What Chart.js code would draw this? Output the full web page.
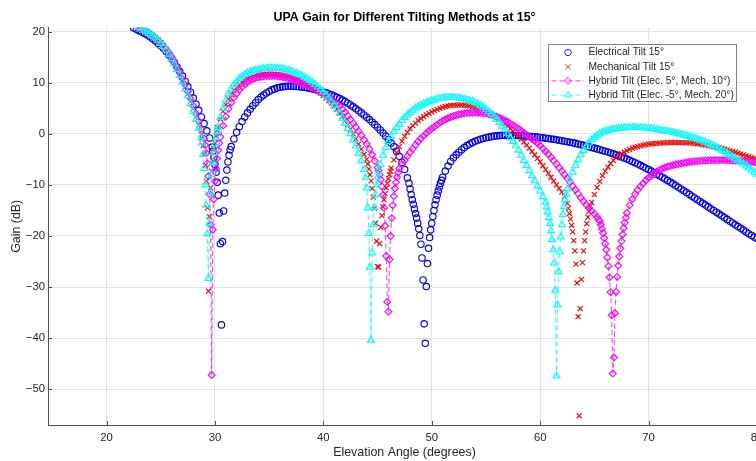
<!DOCTYPE html>
<html>
<head>
<meta charset="utf-8">
<script src="https://cdn.jsdelivr.net/npm/chart.js@4.4.0/dist/chart.umd.min.js"></script>
<style>
  html, body { margin: 0; padding: 0; background: #fff; overflow: hidden; }
  canvas { display: block; }
</style>
</head>
<body>
<canvas id="gainChart" width="780" height="461"></canvas>
<script>
// elevation grid: 22.0 .. 81.0 deg, one row per degree (x.00 x.25 x.50 x.75)
var gridStart = 22.0;
var gridStep = 0.25;

var elecGain = [
/*22*/ null, null, 20.7, 20.45,
/*23*/ 20.2, 19.95, 19.65, 19.35,
/*24*/ 19.0, 18.6, 18.2, 17.75,
/*25*/ 17.25, 16.7, 16.1, 15.45,
/*26*/ 14.75, 13.95, 13.1, 12.2,
/*27*/ 11.3, 10.3, 9.25, 8.15,
/*28*/ 7.0, 5.8, 4.6, 3.3,
/*29*/ 2.0, 0.6, -0.8, -2.6,
/*30*/ null, null, null, null,
/*31*/ null, null, -2.5, -1.0,
/*32*/ 0.3, 1.4, 2.4, 3.3,
/*33*/ 4.1, 4.8, 5.5, 6.1,
/*34*/ 6.7, 7.2, 7.6, 8.0,
/*35*/ 8.3, 8.6, 8.8, 9.0,
/*36*/ 9.1, 9.2, 9.25, 9.3,
/*37*/ 9.3, 9.3, 9.25, 9.2,
/*38*/ 9.15, 9.1, 9.0, 8.9,
/*39*/ 8.8, 8.7, 8.55, 8.4,
/*40*/ 8.2, 8.05, 7.85, 7.65,
/*41*/ 7.4, 7.15, 6.9, 6.6,
/*42*/ 6.3, 6.0, 5.65, 5.3,
/*43*/ 4.9, 4.5, 4.1, 3.7,
/*44*/ 3.25, 2.8, 2.3, 1.8,
/*45*/ 1.3, 0.75, 0.15, -0.45,
/*46*/ -1.1, -1.8, -2.5, -3.4,
/*47*/ -4.4, -5.6, -7.0, -8.6,
/*48*/ null, null, null, null,
/*49*/ null, null, null, null,
/*50*/ null, null, null, null,
/*51*/ -8.5, -7.3, -6.3, -5.4,
/*52*/ -4.7, -4.1, -3.6, -3.1,
/*53*/ -2.7, -2.3, -2.0, -1.7,
/*54*/ -1.45, -1.25, -1.05, -0.9,
/*55*/ -0.75, -0.65, -0.55, -0.45,
/*56*/ -0.4, -0.35, -0.3, -0.3,
/*57*/ -0.3, -0.3, -0.3, -0.32,
/*58*/ -0.35, -0.38, -0.42, -0.46,
/*59*/ -0.5, -0.55, -0.6, -0.65,
/*60*/ -0.7, -0.77, -0.85, -0.92,
/*61*/ -1.0, -1.08, -1.17, -1.26,
/*62*/ -1.35, -1.45, -1.55, -1.65,
/*63*/ -1.75, -1.87, -2.0, -2.12,
/*64*/ -2.25, -2.38, -2.52, -2.66,
/*65*/ -2.8, -2.95, -3.1, -3.25,
/*66*/ -3.4, -3.57, -3.74, -3.92,
/*67*/ -4.1, -4.3, -4.52, -4.73,
/*68*/ -4.95, -5.18, -5.42, -5.66,
/*69*/ -5.9, -6.17, -6.45, -6.72,
/*70*/ -7.0, -7.3, -7.6, -7.9,
/*71*/ -8.2, -8.5, -8.82, -9.13,
/*72*/ -9.45, -9.78, -10.12, -10.46,
/*73*/ -10.8, -11.15, -11.5, -11.85,
/*74*/ -12.2, -12.55, -12.9, -13.25,
/*75*/ -13.6, -13.95, -14.3, -14.65,
/*76*/ -15.0, -15.35, -15.7, -16.05,
/*77*/ -16.4, -16.75, -17.1, -17.45,
/*78*/ -17.8, -18.15, -18.5, -18.85,
/*79*/ -19.2, -19.55, -19.9, -20.2,
/*80*/ -20.5, -20.85, -21.2, -21.55,
/*81*/ -21.9
];
var elecNull1Angle = [29.8, 29.9, 30.0, 30.1, 30.2, 30.3, 30.4, 30.5, 30.6, 30.7, 30.8, 30.9, 31.0, 31.1, 31.2, 31.3, 31.4];
var elecNull1Gain  = [-3.4, -4.6, -6.0, -7.5, -9.5, -12.0, -15.5, -21.5, -37.4, -21.1, -15.1, -11.6, -9.1, -7.1, -5.5, -4.2, -3.1];
var elecNull2Angle = [47.9, 48.0, 48.1, 48.2, 48.3, 48.4, 48.5, 48.6, 48.7, 48.8, 48.9, 49.0, 49.1, 49.2, 49.3, 49.4, 49.5, 49.6, 49.7, 49.8, 49.9, 50.0, 50.1, 50.2, 50.3, 50.4, 50.5, 50.6, 50.7, 50.8, 50.9];
var elecNull2Gain  = [-9.7, -10.8, -11.9, -12.9, -13.8, -14.7, -15.6, -16.5, -17.5, -18.6, -19.9, -21.6, -24.3, -28.6, -37.2, -41.0, -29.9, -25.4, -22.4, -20.3, -18.8, -17.5, -16.2, -15.0, -13.9, -12.9, -12.0, -11.2, -10.4, -9.7, -9.1];

var mechGain = [
/*22*/ null, null, null, null,
/*23*/ 20.8, 20.6, 20.35, 20.05,
/*24*/ 19.7, 19.3, 18.9, 18.4,
/*25*/ 17.85, 17.25, 16.6, 15.8,
/*26*/ 14.95, 14.0, 12.9, 11.75,
/*27*/ 10.5, 9.2, 7.8, 6.4,
/*28*/ 4.9, 3.3, 1.7, -0.1,
/*29*/ null, null, null, null,
/*30*/ null, 1.2, 2.9, 4.4,
/*31*/ 5.7, 6.8, 7.7, 8.5,
/*32*/ 9.1, 9.65, 10.1, 10.5,
/*33*/ 10.8, 11.05, 11.25, 11.4,
/*34*/ 11.5, 11.6, 11.65, 11.7,
/*35*/ 11.7, 11.7, 11.7, 11.65,
/*36*/ 11.6, 11.5, 11.4, 11.25,
/*37*/ 11.1, 10.95, 10.75, 10.55,
/*38*/ 10.3, 10.05, 9.75, 9.45,
/*39*/ 9.1, 8.75, 8.35, 7.95,
/*40*/ 7.5, 7.0, 6.5, 6.0,
/*41*/ 5.4, 4.8, 4.1, 3.4,
/*42*/ 2.6, 1.8, 0.9, 0.0,
/*43*/ -1.0, -2.0, -3.0, -4.0,
/*44*/ -5.0, null, null, null,
/*45*/ null, null, null, null,
/*46*/ null, -6.7, -5.1, -3.7,
/*47*/ -2.5, -1.45, -0.5, 0.3,
/*48*/ 1.0, 1.6, 2.1, 2.6,
/*49*/ 3.0, 3.35, 3.7, 4.0,
/*50*/ 4.3, 4.55, 4.8, 5.0,
/*51*/ 5.2, 5.35, 5.45, 5.55,
/*52*/ 5.6, 5.63, 5.65, 5.63,
/*53*/ 5.6, 5.53, 5.45, 5.33,
/*54*/ 5.2, 5.03, 4.85, 4.63,
/*55*/ 4.4, 4.13, 3.85, 3.53,
/*56*/ 3.2, 2.8, 2.4, 1.95,
/*57*/ 1.5, 1.0, 0.5, 0.0,
/*58*/ -0.5, -1.05, -1.6, -2.2,
/*59*/ -2.8, -3.45, -4.1, -4.8,
/*60*/ -5.5, -6.25, -7.0, -7.75,
/*61*/ -8.5, -9.25, -10.0, -10.7,
/*62*/ -11.4, -12.3, -13.6, null,
/*63*/ null, null, null, null,
/*64*/ null, null, null, -13.4,
/*65*/ -11.9, -10.5, -9.3, -8.2,
/*66*/ -7.3, -6.5, -5.8, -5.2,
/*67*/ -4.7, -4.3, -3.9, -3.6,
/*68*/ -3.3, -3.05, -2.8, -2.65,
/*69*/ -2.5, -2.35, -2.2, -2.1,
/*70*/ -2.0, -1.95, -1.9, -1.85,
/*71*/ -1.8, -1.77, -1.75, -1.72,
/*72*/ -1.7, -1.7, -1.7, -1.7,
/*73*/ -1.7, -1.72, -1.75, -1.77,
/*74*/ -1.8, -1.87, -1.95, -2.02,
/*75*/ -2.1, -2.2, -2.3, -2.4,
/*76*/ -2.5, -2.62, -2.75, -2.87,
/*77*/ -3.0, -3.15, -3.3, -3.45,
/*78*/ -3.6, -3.77, -3.95, -4.12,
/*79*/ -4.3, -4.47, -4.65, -4.82,
/*80*/ -5.0, -5.2, -5.4, -5.6,
/*81*/ -5.8
];
var mechNull1Angle = [28.8, 28.9, 29.0, 29.1, 29.2, 29.3, 29.4, 29.5, 29.6, 29.7, 29.8, 29.9, 30.0, 30.1, 30.2];
var mechNull1Gain  = [-0.9, -2.3, -4.0, -6.2, -9.3, -14.5, -30.8, -16.2, -10.6, -7.3, -5.0, -3.2, -1.7, -0.4, 0.7];
var mechNull2Angle = [44.1, 44.2, 44.3, 44.4, 44.5, 44.6, 44.7, 44.8, 44.9, 45.0, 45.1, 45.2, 45.3, 45.4, 45.5, 45.6, 45.7, 45.8, 45.9, 46.0, 46.1, 46.2];
var mechNull2Gain  = [-5.9, -6.9, -8.0, -9.2, -10.7, -12.4, -14.6, -17.5, -21.0, -26.0, -26.1, -21.5, -18.3, -16.0, -14.3, -12.9, -11.7, -10.6, -9.7, -8.8, -8.0, -7.3];
var mechNull3Angle = [62.6, 62.7, 62.8, 62.9, 63.0, 63.1, 63.2, 63.3, 63.4, 63.5, 63.6, 63.7, 63.8, 63.9, 64.0, 64.1, 64.2, 64.3, 64.4, 64.5, 64.6];
var mechNull3Gain  = [-14.6, -15.6, -16.7, -17.9, -19.2, -20.9, -22.9, -25.5, -29.2, -35.8, -55.2, -34.2, -28.5, -25.2, -22.9, -20.9, -19.2, -17.6, -16.3, -15.2, -14.2];

var hybAGain = [
/*22*/ null, null, null, null,
/*23*/ 20.7, 20.5, 20.25, 19.95,
/*24*/ 19.6, 19.2, 18.8, 18.3,
/*25*/ 17.8, 17.2, 16.5, 15.8,
/*26*/ 15.0, 14.1, 13.1, 12.0,
/*27*/ 10.8, 9.6, 8.3, 6.9,
/*28*/ 5.5, 4.0, 2.5, 0.9,
/*29*/ -0.9, null, null, null,
/*30*/ null, null, -0.6, 1.6,
/*31*/ 3.4, 4.9, 6.1, 7.1,
/*32*/ 7.9, 8.6, 9.2, 9.7,
/*33*/ 10.1, 10.4, 10.7, 10.9,
/*34*/ 11.05, 11.15, 11.25, 11.3,
/*35*/ 11.3, 11.3, 11.3, 11.25,
/*36*/ 11.2, 11.1, 11.0, 10.85,
/*37*/ 10.7, 10.55, 10.35, 10.15,
/*38*/ 9.95, 9.75, 9.5, 9.25,
/*39*/ 9.0, 8.75, 8.45, 8.15,
/*40*/ 7.85, 7.5, 7.15, 6.75,
/*41*/ 6.35, 5.9, 5.4, 4.85,
/*42*/ 4.2, 3.5, 2.8, 2.05,
/*43*/ 1.3, 0.5, -0.3, -1.15,
/*44*/ -2.0, -3.0, -4.1, -5.3,
/*45*/ -6.6, null, null, null,
/*46*/ null, null, null, null,
/*47*/ -6.8, -6.0, -5.2, -4.4,
/*48*/ -3.6, -2.9, -2.2, -1.5,
/*49*/ -0.9, -0.4, 0.1, 0.6,
/*50*/ 1.0, 1.4, 1.8, 2.2,
/*51*/ 2.5, 2.8, 3.05, 3.3,
/*52*/ 3.5, 3.65, 3.8, 3.9,
/*53*/ 4.0, 4.05, 4.1, 4.13,
/*54*/ 4.15, 4.13, 4.1, 4.03,
/*55*/ 3.95, 3.83, 3.7, 3.53,
/*56*/ 3.35, 3.13, 2.9, 2.63,
/*57*/ 2.35, 2.03, 1.7, 1.35,
/*58*/ 1.0, 0.6, 0.2, -0.2,
/*59*/ -0.6, -1.0, -1.4, -1.85,
/*60*/ -2.3, -2.85, -3.4, -4.0,
/*61*/ -4.6, -5.25, -5.9, -6.6,
/*62*/ -7.3, -8.0, -8.7, -9.45,
/*63*/ -10.2, -10.95, -11.7, -12.5,
/*64*/ -13.2, -13.9, -14.5, -15.1,
/*65*/ -15.7, -16.3, null, null,
/*66*/ null, null, null, null,
/*67*/ null, null, null, null,
/*68*/ null, -14.0, -12.8, -11.8,
/*69*/ -11.0, -10.3, -9.7, -9.1,
/*70*/ -8.6, -8.2, -7.8, -7.4,
/*71*/ -7.1, -6.85, -6.6, -6.45,
/*72*/ -6.3, -6.15, -6.0, -5.9,
/*73*/ -5.8, -5.7, -5.6, -5.52,
/*74*/ -5.45, -5.4, -5.35, -5.3,
/*75*/ -5.25, -5.22, -5.2, -5.17,
/*76*/ -5.15, -5.15, -5.15, -5.15,
/*77*/ -5.15, -5.17, -5.2, -5.22,
/*78*/ -5.25, -5.27, -5.3, -5.35,
/*79*/ -5.4, -5.45, -5.5, -5.55,
/*80*/ -5.6, -5.67, -5.75, -5.82,
/*81*/ -5.9
];
var hybANull1Angle = [29.1, 29.2, 29.3, 29.4, 29.5, 29.6, 29.7, 29.8, 29.9, 30.0, 30.1, 30.2, 30.3, 30.4];
var hybANull1Gain  = [-2.2, -3.8, -5.8, -8.3, -11.8, -17.8, -47.2, -18.8, -12.8, -9.3, -6.8, -4.8, -3.2, -1.8];
var hybANull2Angle = [45.1, 45.2, 45.3, 45.4, 45.5, 45.6, 45.7, 45.8, 45.9, 46.0, 46.1, 46.2, 46.3, 46.4, 46.5, 46.6, 46.7, 46.8, 46.9];
var hybANull2Gain  = [-7.2, -8.0, -9.0, -10.3, -12.0, -14.5, -18.0, -23.9, -32.9, -34.8, -24.6, -20.0, -16.5, -14.0, -12.2, -10.7, -9.5, -8.5, -7.6];
var hybANull3Angle = [65.4, 65.5, 65.6, 65.7, 65.8, 65.9, 66.0, 66.1, 66.2, 66.3, 66.4, 66.5, 66.6, 66.7, 66.8, 66.9, 67.0, 67.1, 67.2, 67.3, 67.4, 67.5, 67.6, 67.7, 67.8, 67.9, 68.0];
var hybANull3Gain  = [-16.8, -17.1, -17.8, -18.6, -19.4, -20.4, -21.5, -22.7, -24.2, -25.9, -28.1, -31.0, -35.5, -46.9, -43.8, -35.1, -30.9, -28.0, -25.8, -24.0, -22.4, -21.0, -19.7, -18.5, -17.4, -16.4, -15.5];

var hybBGain = [
/*22*/ null, null, null, null,
/*23*/ 20.8, 20.6, 20.3, 20.0,
/*24*/ 19.6, 19.2, 18.8, 18.3,
/*25*/ 17.7, 17.1, 16.4, 15.6,
/*26*/ 14.7, 13.7, 12.6, 11.4,
/*27*/ 10.1, 8.8, 7.4, 5.9,
/*28*/ 4.4, 2.8, 1.1, -0.6,
/*29*/ null, null, null, null,
/*30*/ null, 1.2, 3.2, 5.0,
/*31*/ 6.5, 7.8, 8.8, 9.6,
/*32*/ 10.2, 10.8, 11.2, 11.6,
/*33*/ 11.9, 12.1, 12.3, 12.45,
/*34*/ 12.6, 12.7, 12.8, 12.85,
/*35*/ 12.9, 12.9, 12.9, 12.85,
/*36*/ 12.8, 12.7, 12.6, 12.45,
/*37*/ 12.3, 12.1, 11.9, 11.65,
/*38*/ 11.4, 11.1, 10.8, 10.45,
/*39*/ 10.1, 9.65, 9.2, 8.7,
/*40*/ 8.2, 7.6, 7.0, 6.3,
/*41*/ 5.6, 4.8, 4.0, 3.05,
/*42*/ 2.1, 1.05, 0.0, -1.2,
/*43*/ -2.4, -3.8, -5.3, -7.0,
/*44*/ null, null, null, null,
/*45*/ null, -6.0, -4.2, -2.7,
/*46*/ -1.5, -0.5, 0.4, 1.2,
/*47*/ 1.9, 2.6, 3.2, 3.7,
/*48*/ 4.2, 4.6, 5.0, 5.3,
/*49*/ 5.6, 5.85, 6.1, 6.3,
/*50*/ 6.5, 6.65, 6.8, 6.9,
/*51*/ 7.0, 7.05, 7.1, 7.1,
/*52*/ 7.1, 7.05, 7.0, 6.9,
/*53*/ 6.8, 6.65, 6.5, 6.3,
/*54*/ 6.1, 5.85, 5.5, 5.2,
/*55*/ 4.8, 4.35, 3.9, 3.4,
/*56*/ 2.8, 2.2, 1.5, 0.8,
/*57*/ 0.0, -0.75, -1.5, -2.35,
/*58*/ -3.2, -4.2, -5.2, -6.2,
/*59*/ -7.2, -8.2, -9.2, -10.2,
/*60*/ -11.2, -12.3, -13.4, null,
/*61*/ null, null, null, null,
/*62*/ null, null, -10.8, -9.0,
/*63*/ -7.5, -6.2, -5.1, -4.1,
/*64*/ -3.3, -2.5, -1.8, -1.2,
/*65*/ -0.7, -0.3, 0.0, 0.3,
/*66*/ 0.5, 0.65, 0.8, 0.9,
/*67*/ 1.0, 1.08, 1.15, 1.18,
/*68*/ 1.2, 1.22, 1.25, 1.25,
/*69*/ 1.25, 1.22, 1.2, 1.15,
/*70*/ 1.1, 1.03, 0.95, 0.85,
/*71*/ 0.75, 0.67, 0.58, 0.5,
/*72*/ 0.4, 0.28, 0.15, 0.03,
/*73*/ -0.1, -0.25, -0.4, -0.55,
/*74*/ -0.7, -0.87, -1.05, -1.22,
/*75*/ -1.4, -1.62, -1.85, -2.07,
/*76*/ -2.3, -2.6, -2.9, -3.2,
/*77*/ -3.5, -3.82, -4.15, -4.47,
/*78*/ -4.8, -5.17, -5.55, -5.92,
/*79*/ -6.3, -6.7, -7.1, -7.5,
/*80*/ -7.9, -8.3, -8.7, -9.1,
/*81*/ -9.5
];
var hybBNull1Angle = [28.8, 28.9, 29.0, 29.1, 29.2, 29.3, 29.4, 29.5, 29.6, 29.7, 29.8, 29.9, 30.0, 30.1, 30.2];
var hybBNull1Gain  = [-1.8, -4.0, -6.8, -10.0, -14.0, -19.6, -28.3, -17.5, -11.5, -8.0, -5.6, -3.7, -2.1, -0.7, 0.5];
var hybBNull2Angle = [43.9, 44.0, 44.1, 44.2, 44.3, 44.4, 44.5, 44.6, 44.7, 44.8, 44.9, 45.0, 45.1];
var hybBNull2Gain  = [-8.6, -10.6, -14.5, -19.5, -26.1, -40.4, -23.3, -17.8, -14.4, -11.9, -10.0, -8.5, -7.2];
var hybBNull3Angle = [60.6, 60.7, 60.8, 60.9, 61.0, 61.1, 61.2, 61.3, 61.4, 61.5, 61.6, 61.7, 61.8, 61.9, 62.0, 62.1, 62.2, 62.3, 62.4];
var hybBNull3Gain  = [-14.3, -15.3, -16.4, -17.6, -19.0, -20.7, -22.7, -25.3, -30.6, -47.4, -33.5, -27.0, -23.1, -20.2, -17.8, -15.8, -14.2, -12.9, -11.8];

var seriesLabels = [
  'Electrical Tilt 15\u00b0',
  'Mechanical Tilt 15\u00b0',
  'Hybrid Tilt (Elec. 5\u00b0, Mech. 10\u00b0)',
  'Hybrid Tilt (Elec. -5\u00b0, Mech. 20\u00b0)'
];

// merge the quarter-degree grid with the finer samples around each null
function buildPoints(gain, nulls) {
  var pts = [];
  gain.forEach(function (g, i) {
    if (g === null) return;
    var a = Math.round((gridStart + i * gridStep) * 100) / 100;
    var inside = nulls.some(function (n) { return a >= n[0][0] && a <= n[0][n[0].length - 1]; });
    if (!inside) pts.push({ x: a, y: g });
  });
  nulls.forEach(function (n) {
    n[0].forEach(function (a, k) { pts.push({ x: a, y: n[1][k] }); });
  });
  pts.sort(function (p, q) { return p.x - q.x; });
  return pts;
}

var FONT = "'Liberation Sans', Arial, Helvetica, sans-serif";
Chart.defaults.font.family = FONT;
Chart.defaults.color = '#262626';

function minusFmt(v) {
  return v < 0 ? '\u2212' + Math.abs(v) : String(v);
}

// MATLAB style tick marks pointing into the axes
var innerTicks = {
  id: 'innerTicks',
  afterDraw: function (chart) {
    var ctx = chart.ctx, a = chart.chartArea;
    var sx = chart.scales.x, sy = chart.scales.y;
    ctx.save();
    ctx.strokeStyle = '#505050';
    ctx.lineWidth = 1;
    ctx.beginPath();
    sx.ticks.forEach(function (t) {
      var p = Math.round(sx.getPixelForValue(t.value)) + 0.5;
      ctx.moveTo(p, a.bottom);
      ctx.lineTo(p, a.bottom - 4);
    });
    sy.ticks.forEach(function (t) {
      var p = Math.round(sy.getPixelForValue(t.value)) + 0.5;
      ctx.moveTo(a.left, p);
      ctx.lineTo(a.left + 4, p);
    });
    ctx.stroke();
    ctx.restore();
  }
};

// legend box inside the axes, top right
var boxLegend = {
  id: 'boxLegend',
  afterDraw: function (chart) {
    var ctx = chart.ctx;
    var bx = 548.5, by = 44.5, bw = 188, bh = 57;
    ctx.save();
    ctx.fillStyle = '#ffffff';
    ctx.fillRect(bx, by, bw, bh);
    ctx.strokeStyle = '#808080';
    ctx.lineWidth = 1;
    ctx.strokeRect(bx, by, bw, bh);
    ctx.font = '10.2px ' + FONT;
    ctx.textBaseline = 'middle';
    chart.data.datasets.forEach(function (ds, i) {
      var cy = 52.5 + i * 14.2;
      ctx.strokeStyle = ds.borderColor;
      if (ds.showLine) {
        ctx.save();
        ctx.lineWidth = 0.8;
        ctx.setLineDash([5, 3]);
        ctx.beginPath();
        ctx.moveTo(551.5, cy);
        ctx.lineTo(584, cy);
        ctx.stroke();
        ctx.restore();
      }
      ctx.fillStyle = 'rgba(0,0,0,0)';
      ctx.lineWidth = 0.9;
      Chart.helpers.drawPoint(ctx, {
        pointStyle: ds.pointStyle,
        radius: ds.pointRadius,
        borderWidth: 0.9,
        rotation: 0
      }, 568, cy);
      ctx.fillStyle = '#262626';
      ctx.fillText(ds.label, 588.5, cy);
    });
    ctx.restore();
  }
};

var ctx = document.getElementById('gainChart').getContext('2d');
var chart = new Chart(ctx, {
  type: 'scatter',
  data: {
    datasets: [
      {
        label: seriesLabels[0],
        data: buildPoints(elecGain, [[elecNull1Angle, elecNull1Gain], [elecNull2Angle, elecNull2Gain]]),
        showLine: false,
        borderColor: '#0000ff',
        pointStyle: 'circle',
        pointRadius: 3.2,
        pointBorderWidth: 1.15,
        pointBorderColor: '#0000ff',
        pointBackgroundColor: 'rgba(0,0,0,0)',
        order: 3
      },
      {
        label: seriesLabels[1],
        data: buildPoints(mechGain, [[mechNull1Angle, mechNull1Gain], [mechNull2Angle, mechNull2Gain], [mechNull3Angle, mechNull3Gain]]),
        showLine: false,
        borderColor: '#ff0000',
        pointStyle: 'crossRot',
        pointRadius: 3.5,
        pointBorderWidth: 1.15,
        pointBorderColor: '#ff0000',
        pointBackgroundColor: 'rgba(0,0,0,0)',
        order: 2
      },
      {
        label: seriesLabels[2],
        data: buildPoints(hybAGain, [[hybANull1Angle, hybANull1Gain], [hybANull2Angle, hybANull2Gain], [hybANull3Angle, hybANull3Gain]]),
        showLine: true,
        borderColor: '#ff00ff',
        borderWidth: 0.8,
        borderDash: [5, 3],
        tension: 0,
        pointStyle: 'rectRot',
        pointRadius: 3.4,
        pointBorderWidth: 1.15,
        pointBorderColor: '#ff00ff',
        pointBackgroundColor: 'rgba(0,0,0,0)',
        order: 1
      },
      {
        label: seriesLabels[3],
        data: buildPoints(hybBGain, [[hybBNull1Angle, hybBNull1Gain], [hybBNull2Angle, hybBNull2Gain], [hybBNull3Angle, hybBNull3Gain]]),
        showLine: true,
        borderColor: '#00ffff',
        borderWidth: 0.8,
        borderDash: [5, 3],
        tension: 0,
        pointStyle: 'triangle',
        pointRadius: 3.9,
        pointBorderWidth: 1.15,
        pointBorderColor: '#00ffff',
        pointBackgroundColor: 'rgba(0,0,0,0)',
        order: 0
      }
    ]
  },
  options: {
    responsive: false,
    animation: false,
    devicePixelRatio: 1,
    events: [],
    layout: { padding: { left: 0, right: 19, top: 0, bottom: 0 } },
    plugins: {
      legend: { display: false },
      tooltip: { enabled: false },
      title: {
        display: true,
        fullSize: false,
        text: 'UPA Gain for Different Tilting Methods at 15\u00b0',
        color: '#000000',
        font: { family: FONT, size: 12.4, weight: 'bold' },
        padding: { top: 10.3, bottom: 2.5 }
      }
    },
    scales: {
      x: {
        type: 'linear',
        min: 14.6,
        max: 80.37,
        afterFit: function (s) { s.height = 36; },
        grid: { color: '#e3e3e3', lineWidth: 1, drawTicks: false },
        border: { color: '#505050', width: 1 },
        ticks: { stepSize: 10, includeBounds: false, padding: 6, maxRotation: 0, font: { size: 11.3 }, color: '#262626' },
        title: { display: true, text: 'Elevation Angle (degrees)', color: '#262626', font: { size: 12.4 }, padding: { top: 0, bottom: 1 } }
      },
      y: {
        type: 'linear',
        min: -57,
        max: 20.78,
        afterFit: function (s) { s.width = 48; },
        grid: { color: '#e3e3e3', lineWidth: 1, drawTicks: false },
        border: { color: '#505050', width: 1 },
        ticks: { stepSize: 10, includeBounds: false, padding: 3, font: { size: 11.3 }, color: '#262626', callback: minusFmt },
        title: { display: true, text: 'Gain (dB)', color: '#262626', font: { size: 12.4 }, padding: { top: 9, bottom: 0 } }
      }
    }
  },
  plugins: [innerTicks, boxLegend]
});
</script>
</body>
</html>
